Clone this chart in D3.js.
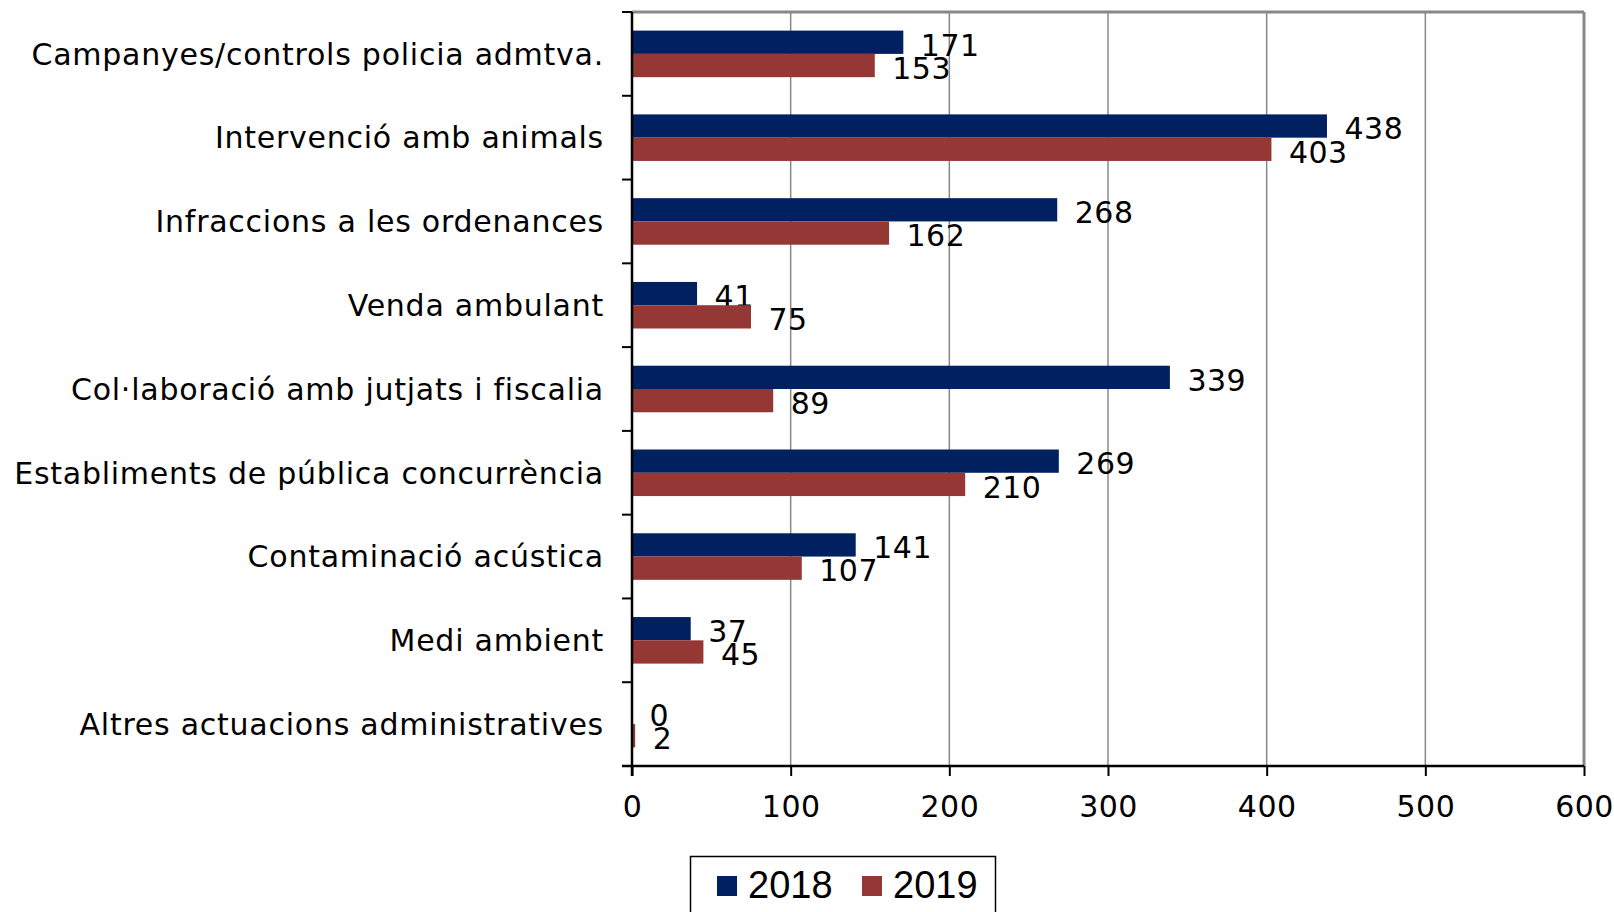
<!DOCTYPE html>
<html>
<head>
<meta charset="utf-8">
<script src="https://cdn.jsdelivr.net/npm/d3@7"></script>
<style>
  html, body { margin: 0; padding: 0; background: #fff; }
  svg { display: block; }
</style>
</head>
<body>
<svg id="chart" width="1614" height="912"></svg>
<script>
const categories = [
  "Campanyes/controls policia admtva.",
  "Intervenció amb animals",
  "Infraccions a les ordenances",
  "Venda ambulant",
  "Col·laboració amb jutjats i fiscalia",
  "Establiments de pública concurrència",
  "Contaminació acústica",
  "Medi ambient",
  "Altres actuacions administratives"
];
const seriesNames = ["2018", "2019"];
const values2018 = [171, 438, 268, 41, 339, 269, 141, 37, 0];
const values2019 = [153, 403, 162, 75, 89, 210, 107, 45, 2];
const xTicks = [0, 100, 200, 300, 400, 500, 600];
const colors = ["#002060", "#953735"];

(function () {
const svg = d3.select("#chart");
const pLeft = 632, pRight = 1584, pTop = 12, pBottom = 766;
const font = "'DejaVu Sans', Verdana, sans-serif";
const fs = 30;

const x = d3.scaleLinear().domain([0, 600]).range([pLeft, pRight]);
const y0 = d3.scaleBand().domain(categories).range([pTop, pBottom]).padding(0);
const y1 = d3.scaleBand().domain(seriesNames).range([0, y0.bandwidth()]).paddingInner(0).paddingOuter(0.8);

const seriesValues = [values2018, values2019];

// gridlines
svg.append("g").selectAll("line").data(xTicks.filter(t => t > 0 && t < 600)).join("line")
  .attr("x1", d => x(d)).attr("x2", d => x(d))
  .attr("y1", pTop).attr("y2", pBottom)
  .attr("stroke", "#888").attr("stroke-width", 1.5);

// top & right border
svg.append("line").attr("x1", pLeft).attr("x2", pRight).attr("y1", pTop).attr("y2", pTop)
  .attr("stroke", "#888").attr("stroke-width", 3);
svg.append("line").attr("x1", pRight).attr("x2", pRight).attr("y1", pTop).attr("y2", pBottom)
  .attr("stroke", "#888").attr("stroke-width", 3);

// bars
const groups = svg.append("g").selectAll("g").data(categories).join("g")
  .attr("transform", d => `translate(0,${y0(d)})`);

seriesNames.forEach((s, si) => {
  groups.append("rect")
    .attr("x", x(0))
    .attr("y", y1(s))
    .attr("width", (d, i) => x(seriesValues[si][i]) - x(0))
    .attr("height", y1.bandwidth())
    .attr("fill", colors[si]);
  groups.append("text")
    .attr("x", (d, i) => x(seriesValues[si][i]) + 17.5)
    .attr("y", y1(s) + y1.bandwidth() / 2 + fs * 0.36 + 2.5)
    .attr("font-family", font).attr("font-size", fs).attr("letter-spacing", 0.5).attr("fill", "#000")
    .text((d, i) => seriesValues[si][i]);
});

// x axis
const xAxis = d3.axisBottom(x).tickValues(xTicks).tickSize(10).tickPadding(20).tickFormat(d3.format("d"));
const gx = svg.append("g").attr("transform", `translate(0,${pBottom})`).call(xAxis);
gx.select(".domain").attr("stroke", "#000").attr("stroke-width", 2.5)
  .attr("d", `M${pLeft - 10},0H${pRight}`);
gx.selectAll(".tick line").attr("stroke", "#000").attr("stroke-width", 2);
gx.selectAll(".tick text").attr("font-family", font).attr("font-size", fs).attr("letter-spacing", 0.5).attr("fill", "#000");

// y axis
const gy = svg.append("g").attr("transform", `translate(${pLeft},0)`);
gy.append("line").attr("x1", 0).attr("x2", 0).attr("y1", pTop).attr("y2", pBottom + 10)
  .attr("stroke", "#000").attr("stroke-width", 2.5);
const bounds = categories.map(c => y0(c)).concat([pBottom]);
gy.selectAll("line.tk").data(bounds).join("line").attr("class", "tk")
  .attr("x1", -10).attr("x2", 0).attr("y1", d => d).attr("y2", d => d)
  .attr("stroke", "#000").attr("stroke-width", 2);
gy.selectAll("text").data(categories).join("text")
  .attr("x", -28)
  .attr("y", d => y0(d) + y0.bandwidth() / 2 + fs * 0.36)
  .attr("text-anchor", "end")
  .attr("font-family", font).attr("font-size", fs).attr("letter-spacing", 0.75).attr("fill", "#000")
  .text(d => d);

// legend
const lg = svg.append("g");
lg.append("rect").attr("x", 690.5).attr("y", 856.5).attr("width", 305).attr("height", 70)
  .attr("fill", "#fff").attr("stroke", "#000").attr("stroke-width", 1.5);
const legendX = [717, 862];
seriesNames.forEach((s, i) => {
  lg.append("rect").attr("x", legendX[i]).attr("y", 876).attr("width", 20).attr("height", 20).attr("fill", colors[i]);
  lg.append("text").attr("x", legendX[i] + 31).attr("y", 898)
    .attr("font-family", "'Liberation Sans', Arial, sans-serif").attr("font-size", 38).attr("fill", "#000")
    .text(s);
});
})();
</script>
</body>
</html>
